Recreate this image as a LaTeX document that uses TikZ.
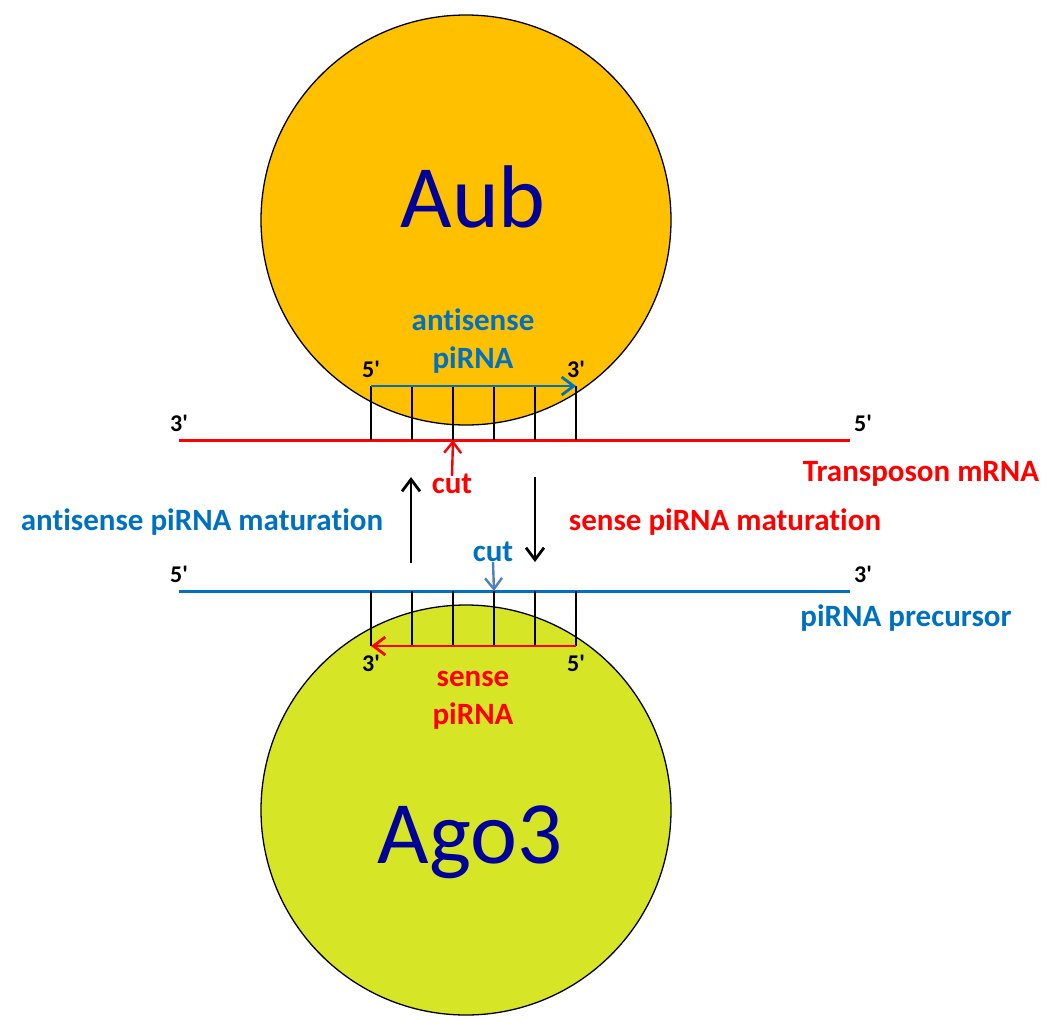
\documentclass[tikz,border=0pt]{standalone}
\usepackage{fontspec}
\setmainfont{Carlito}[Ligatures={TeXOff,NoCommon}]
\usetikzlibrary{arrows.meta, positioning}
\definecolor{aubfill}{RGB}{255,192,0}
\definecolor{agofill}{RGB}{214,230,38}
\definecolor{protblue}{RGB}{0,0,153}
\definecolor{rnablue}{RGB}{0,112,192}
\definecolor{rnared}{RGB}{255,0,0}
\definecolor{cutblue}{RGB}{79,129,189}
\tikzstyle{protein} = [draw, circle, minimum size=410pt, inner sep=0pt, line width=1.3pt]
\tikzstyle{protname} = [text=protblue, font=\fontsize{89}{90}\selectfont, anchor=base]
\tikzstyle{lbl} = [font=\bfseries\fontsize{31}{38}\selectfont, inner sep=0pt]
\tikzstyle{prime} = [font=\bfseries\fontsize{24}{26}\selectfont, inner sep=0pt]
\tikzstyle{strand} = [line width=3pt]
\tikzstyle{pair} = [line width=1.6pt]
\tikzstyle{piarrow} = [-{Straight Barb[length=12pt,width=18pt]}, line width=2.8pt]
\tikzstyle{cutarrow} = [-{Straight Barb[length=11pt,width=17pt]}, line width=2.4pt]

\begin{document}
\begin{tikzpicture}[x=1pt,y=-1pt]
  \useasboundingbox (0,0) rectangle (1050,1034);
  % proteins
  \node[protein, fill=aubfill] (aub) at (466,220) {};
  \node[protein, fill=agofill] (ago) at (466,810) {};
  \node[protname] (aubname) at (473,227) {Aub};
  \node[protname] (agoname) at (470,863) {Ago3};
  % strands
  \coordinate (m3) at (179,440);
  \coordinate (m5) at (850,440);
  \coordinate (p5) at (179,591);
  \coordinate (p3) at (850,591);
  \draw[strand, rnared] (m3) -- (m5);
  \draw[strand, rnablue] (p5) -- (p3);
  \foreach \i in {0,...,5} {
    \coordinate (t\i) at (371+41*\i,386);
    \coordinate (s\i) at (371+41*\i,646);
    \draw[pair] (t\i) -- (t\i |- m3);
    \draw[pair] (s\i) -- (s\i |- p5);
  }
  \draw[piarrow, rnablue] (t0) -- (t5);
  \draw[piarrow, rnared] (s5) -- (s0);
  % ends
  \node[prime, above=8pt of m3] (m3l) {3'};
  \node[prime, above right=8pt and 4pt of m5] (m5l) {5'};
  \node[prime, above=8pt of p5] (p5l) {5'};
  \node[prime, above right=8pt and 4pt of p3] (p3l) {3'};
  \node[prime, above=8pt of t0] (t0l) {5'};
  \node[prime, above=8pt of t5] (t5l) {3'};
  \node[prime, below=9pt of s0] (s0l) {3'};
  \node[prime, below=9pt of s5] (s5l) {5'};
  % labels
  \node[lbl, text=rnablue, align=center] (aspi) at (473,341) {antisense\\piRNA};
  \node[lbl, text=rnared, align=center] (spi) at (473,700) {sense\\piRNA};
  \node[lbl, text=rnared] (tmrna) at (921,474) {Transposon mRNA};
  \node[lbl, text=rnablue] (prec) at (906,618) {piRNA precursor};
  % cuts
  \node[lbl, text=rnared] (redcut) at (452,484) {cut};
  \draw[cutarrow, rnared] ([yshift=-2pt]redcut.north) -- (t2 |- m3);
  \node[lbl, text=rnablue] (bluecut) at (493,552) {cut};
  \draw[cutarrow, cutblue] (bluecut.south) -- (s3 |- p5);
  % maturation
  \coordinate (upfrom) at (411,563);
  \coordinate (upto) at (411,477);
  \coordinate (downfrom) at (535,477);
  \coordinate (downto) at (535,562);
  \draw[piarrow] (upfrom) -- (upto);
  \draw[piarrow] (downfrom) -- (downto);
  \node[lbl, text=rnablue] (asmat) at (202,522) {antisense piRNA maturation};
  \node[lbl, text=rnared] (smat) at (725,522) {sense piRNA maturation};
\end{tikzpicture}
\end{document}
